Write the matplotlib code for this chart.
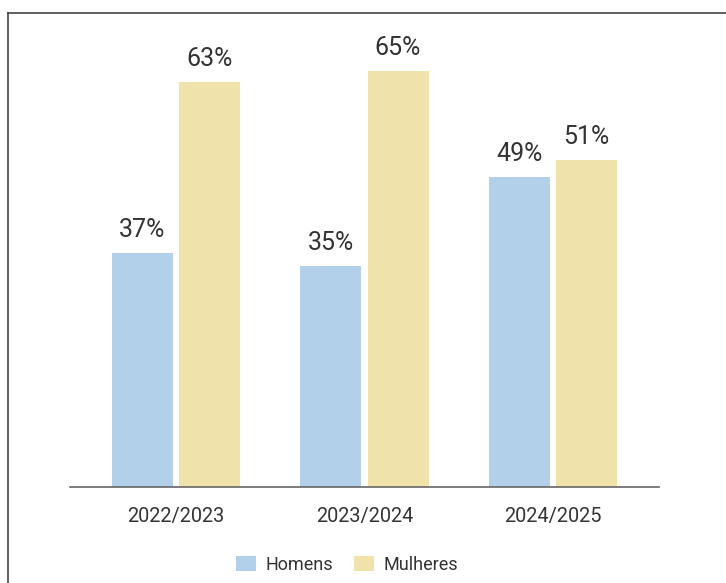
import matplotlib
matplotlib.use("Agg")
import matplotlib.pyplot as plt
from matplotlib.lines import Line2D
from matplotlib.patches import Patch
import numpy as np

plt.rcParams['font.family'] = ['Roboto', 'DejaVu Sans']

categories = ["2022/2023", "2023/2024", "2024/2025"]
homens = [36.7, 34.7, 48.6]
mulheres = [63.4, 65.2, 51.2]
series_names = ["Homens", "Mulheres"]

blue = "#b3d0eb"
yellow = "#efe2aa"
txt = "#333333"

fig = plt.figure(figsize=(7.26, 5.83), dpi=100)
ax = fig.add_axes([70/726, 1-487/583, 589/726, 467/583])

x = np.arange(len(categories))
w = 0.324
off = 0.178
b1 = ax.bar(x - off, homens, w, color=blue)
b2 = ax.bar(x + off, mulheres, w, color=yellow)

for bars, vals in ((b1, homens), (b2, mulheres)):
    for r, v in zip(bars, vals):
        ax.annotate(f"{round(v)}%", (r.get_x() + r.get_width()/2, r.get_height()),
                    xytext=(0, 11.5), textcoords="offset points",
                    ha="center", va="baseline", fontsize=18, color=txt)

ax.set_xlim(-0.562, 2.562)
ax.set_ylim(0, 467/6.383)
ax.set_xticks(x)
ax.set_xticklabels(categories, fontsize=14.3, color=txt)
ax.tick_params(axis="x", length=0, pad=14.5)
ax.set_yticks([])
for s in ("top", "right", "left"):
    ax.spines[s].set_visible(False)
ax.spines["bottom"].set_color("#666666")
ax.spines["bottom"].set_linewidth(1.2)

# outer frame (left and top edges)
fig.add_artist(Line2D([7.5/726, 7.5/726], [0, 1-13/583], transform=fig.transFigure,
                      color="#444444", lw=1.2))
fig.add_artist(Line2D([7.5/726, 1.0], [1-13/583, 1-13/583], transform=fig.transFigure,
                      color="#444444", lw=1.2))

handles = [Patch(facecolor=blue, label=series_names[0]),
           Patch(facecolor=yellow, label=series_names[1])]
leg = fig.legend(handles=handles, loc="center", bbox_to_anchor=(347/726, 1-564.5/583),
                 ncol=2, frameon=False, fontsize=13, handlelength=1.1, handleheight=0.95,
                 handletextpad=0.5, columnspacing=1.2, borderaxespad=0, borderpad=0)
for t in leg.get_texts():
    t.set_color(txt)

fig.savefig("out.png", dpi=100)
